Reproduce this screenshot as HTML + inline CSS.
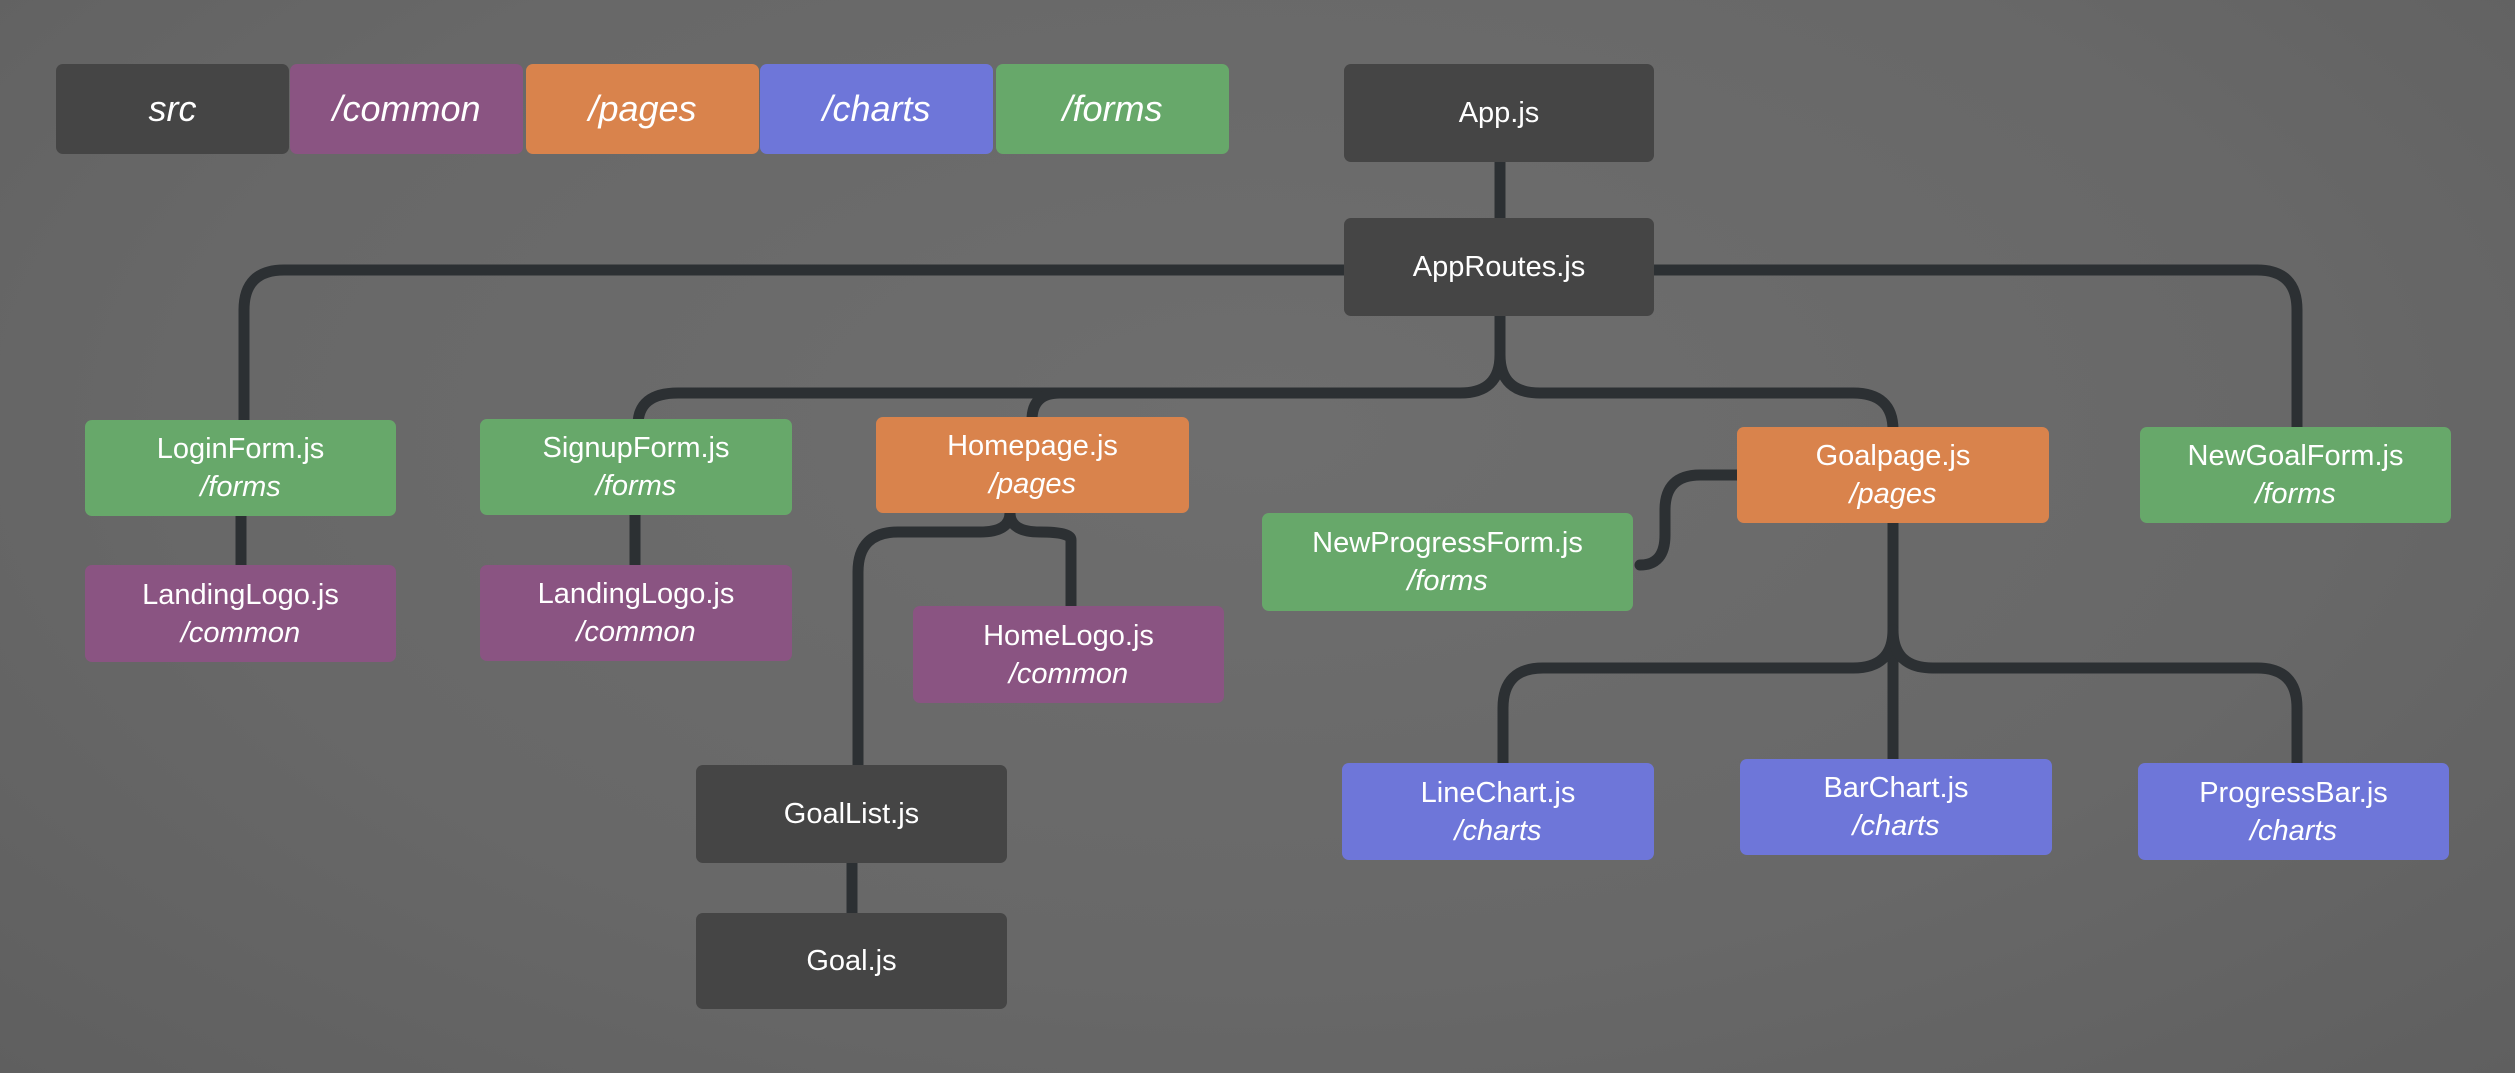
<!DOCTYPE html>
<html><head><meta charset="utf-8"><style>
html,body{margin:0;padding:0}
body{width:2515px;height:1073px;background:radial-gradient(ellipse at 50% 40%,#6e6e6e 0%,#686868 60%,#5f5f5f 100%);position:relative;overflow:hidden;font-family:"Liberation Sans",sans-serif}
svg{position:absolute;left:0;top:0}
.b{position:absolute;border-radius:7px;color:#fff;display:flex;flex-direction:column;align-items:center;justify-content:center;font-size:29px;line-height:38px;text-align:center}
.b i{font-style:italic}
.d{background:#454545}.p{background:#8a5482}.o{background:#d9834c}.u{background:#6e76d9}.g{background:#67a86a}
.l{font-size:36px;font-style:italic}
</style></head><body>
<svg width="2515" height="1073" fill="none" stroke="#2c3033" stroke-width="11" stroke-linecap="round">
<path d="M1500,160 V220"/>
<path d="M1344,270 H284 Q244,270 244,310 V425"/>
<path d="M1654,270 H2257 Q2297,270 2297,310 V430"/>
<path d="M1500,316 V355 Q1500,393 1460,393 H678 Q638,393 638,425"/>
<path d="M1500,355 Q1500,393 1540,393 H1853 Q1893,393 1893,430"/>
<path d="M1060,393 Q1032,393 1032,420"/>
<path d="M241,516 V565"/>
<path d="M635,515 V565"/>
<path d="M1010,513 Q1010,532 980,532 H898 Q858,532 858,572 V770"/>
<path d="M1010,513 Q1010,532 1040,532 Q1071,532 1071,540 V610"/>
<path d="M852,863 V913"/>
<path d="M1740,475 H1700 Q1665,475 1665,510 V535 Q1665,565 1640,565"/>
<path d="M1893,523 V759"/>
<path d="M1893,630 Q1893,668 1853,668 H1543 Q1503,668 1503,708 V765"/>
<path d="M1893,630 Q1893,668 1933,668 H2257 Q2297,668 2297,708 V765"/>
</svg>
<div class="b d l" style="left:56px;top:64px;width:233px;height:90px">src</div>
<div class="b p l" style="left:290px;top:64px;width:233px;height:90px">/common</div>
<div class="b o l" style="left:526px;top:64px;width:233px;height:90px">/pages</div>
<div class="b u l" style="left:760px;top:64px;width:233px;height:90px">/charts</div>
<div class="b g l" style="left:996px;top:64px;width:233px;height:90px">/forms</div>
<div class="b d" style="left:1344px;top:64px;width:310px;height:98px">App.js</div>
<div class="b d" style="left:1344px;top:218px;width:310px;height:98px">AppRoutes.js</div>
<div class="b g" style="left:85px;top:420px;width:311px;height:96px">LoginForm.js<i>/forms</i></div>
<div class="b p" style="left:85px;top:565px;width:311px;height:97px">LandingLogo.js<i>/common</i></div>
<div class="b g" style="left:480px;top:419px;width:312px;height:96px">SignupForm.js<i>/forms</i></div>
<div class="b p" style="left:480px;top:565px;width:312px;height:96px">LandingLogo.js<i>/common</i></div>
<div class="b o" style="left:876px;top:417px;width:313px;height:96px">Homepage.js<i>/pages</i></div>
<div class="b p" style="left:913px;top:606px;width:311px;height:97px">HomeLogo.js<i>/common</i></div>
<div class="b d" style="left:696px;top:765px;width:311px;height:98px">GoalList.js</div>
<div class="b d" style="left:696px;top:913px;width:311px;height:96px">Goal.js</div>
<div class="b g" style="left:1262px;top:513px;width:371px;height:98px">NewProgressForm.js<i>/forms</i></div>
<div class="b o" style="left:1737px;top:427px;width:312px;height:96px">Goalpage.js<i>/pages</i></div>
<div class="b g" style="left:2140px;top:427px;width:311px;height:96px">NewGoalForm.js<i>/forms</i></div>
<div class="b u" style="left:1342px;top:763px;width:312px;height:97px">LineChart.js<i>/charts</i></div>
<div class="b u" style="left:1740px;top:759px;width:312px;height:96px">BarChart.js<i>/charts</i></div>
<div class="b u" style="left:2138px;top:763px;width:311px;height:97px">ProgressBar.js<i>/charts</i></div>
</body></html>
